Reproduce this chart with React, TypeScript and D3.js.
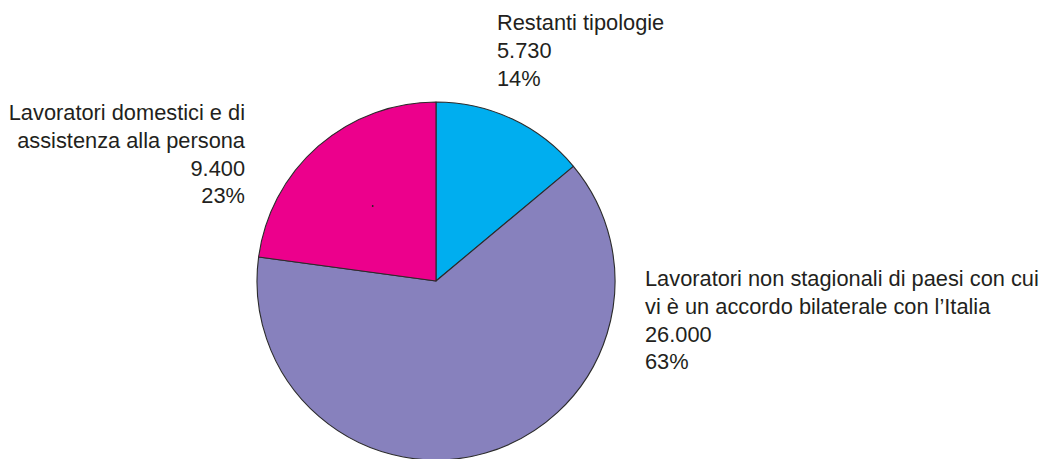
import React from "react";
import * as d3 from "d3";

const categories = [
  "Restanti tipologie",
  "Lavoratori non stagionali di paesi con cui vi è un accordo bilaterale con l’Italia",
  "Lavoratori domestici e di assistenza alla persona",
];
const values = [5730, 26000, 9400];
const valueLabels = ["5.730", "26.000", "9.400"];
const percentLabels = ["14%", "63%", "23%"];
const labelLines = [
  ["Restanti tipologie"],
  ["Lavoratori non stagionali di paesi con cui", "vi è un accordo bilaterale con l’Italia"],
  ["Lavoratori domestici e di", "assistenza alla persona"],
];
const colors = ["#00AEEF", "#8781BD", "#EC008C"];

const W = 1040;
const H = 459;
const cx = 436;
const cy = 281;
const R = 179;

// label anchor positions (layout only)
const labelPos = [
  { x: 497, y: 30, anchor: "start" },
  { x: 645, y: 286, anchor: "start" },
  { x: 245, y: 120, anchor: "end" },
];
const lineH = 27.8;

export default function App() {
  const pie = d3
    .pie<number>()
    .sort(null)
    .startAngle(0)
    .endAngle(2 * Math.PI)
    .value((d) => d);
  const arcs = pie(values);
  const arcGen = d3.arc<d3.PieArcDatum<number>>().innerRadius(0).outerRadius(R);

  return (
    <svg
      width={W}
      height={H}
      style={{ position: "absolute", left: 0, top: 0, background: "#fff" }}
      fontFamily="'Liberation Sans', Arial, Helvetica, sans-serif"
    >
      <g transform={`translate(${cx},${cy})`}>
        {arcs.map((a, i) => (
          <path
            key={categories[i]}
            d={arcGen(a) || ""}
            fill={colors[i]}
            stroke="#2b2b2b"
            strokeWidth={1.1}
            strokeLinejoin="round"
          />
        ))}
      </g>
      <circle cx={372.7} cy={206} r={0.9} fill="#222" />
      {labelLines.map((lines, i) => {
        const p = labelPos[i];
        const all = [...lines, valueLabels[i], percentLabels[i]];
        return (
          <text
            key={i}
            x={p.x}
            y={p.y}
            textAnchor={p.anchor as any}
            fontSize={21.8}
            fill="#231f20"
          >
            {all.map((t, j) => (
              <tspan key={j} x={p.x} y={p.y + j * lineH}>
                {t}
              </tspan>
            ))}
          </text>
        );
      })}
    </svg>
  );
}
